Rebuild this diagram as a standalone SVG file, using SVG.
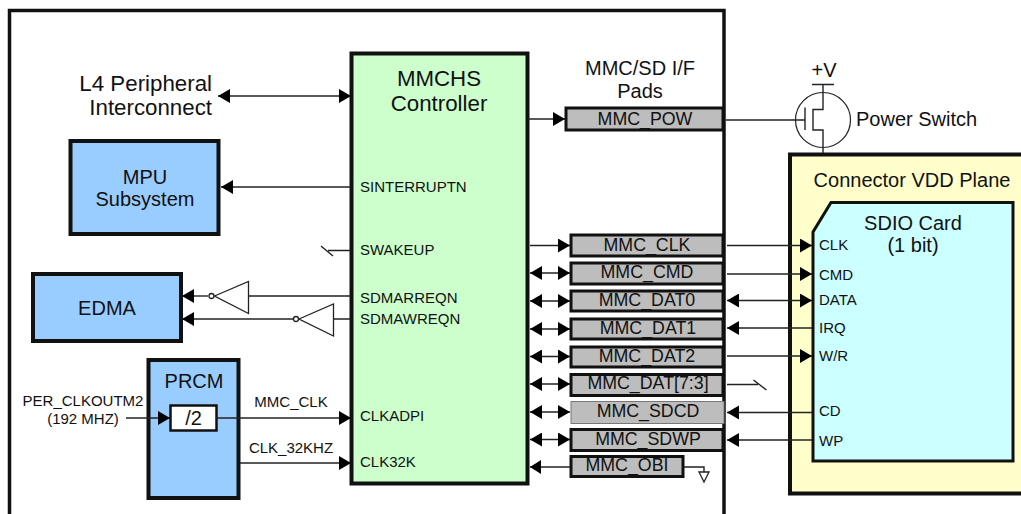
<svg xmlns="http://www.w3.org/2000/svg" width="1021" height="514" viewBox="0 0 1021 514">
<style>
text{font-family:"Liberation Sans",Arial,sans-serif;fill:#111}
.t22{font-size:22.3px}.t20{font-size:20px}.t17{font-size:17.8px}.t15{font-size:15px}
.m{text-anchor:middle}.e{text-anchor:end}
.box{stroke:#111;stroke-width:4}
.blue{fill:#99ccff}.pad{fill:#bdbdbd;stroke:#111;stroke-width:3}
.w{fill:none;stroke:#222;stroke-width:1.4}
.ar{marker-end:url(#a)}.br{marker-start:url(#as);marker-end:url(#a)}
</style>
<defs>
<marker id="a" markerUnits="userSpaceOnUse" markerWidth="12" markerHeight="14" refX="12" refY="7" orient="auto"><path d="M0 0L12 7L0 14Z" fill="#000"/></marker>
<marker id="as" markerUnits="userSpaceOnUse" markerWidth="12" markerHeight="14" refX="0" refY="7" orient="auto"><path d="M12 0L0 7L12 14Z" fill="#000"/></marker>
</defs>
<rect width="1021" height="514" fill="#fff"/>
<path id="soc-boundary" d="M9.500 520V10.500H724V520" fill="none" stroke="#111" stroke-width="3.500"/>
<g id="connector-plane"><rect x="790" y="154.500" width="240" height="339" fill="#ffffcc" class="box"/><text x="912" y="187" class="t20 m">Connector VDD Plane</text></g>
<g id="sdio-card"><path d="M813 461V232L831 202.500H1013V461Z" fill="#ccffff" stroke="#111" stroke-width="3"/><text x="913" y="230" class="t20 m">SDIO Card</text><text x="913" y="252" class="t20 m">(1 bit)</text>
<text x="819" y="250" class="t15">CLK</text><text x="819" y="280" class="t15">CMD</text><text x="819" y="305" class="t15">DATA</text><text x="819" y="333" class="t15">IRQ</text><text x="819" y="361" class="t15">W/R</text><text x="819" y="416" class="t15">CD</text><text x="819" y="446" class="t15">WP</text></g>
<g id="l4-label"><text x="212" y="91" class="t22 e">L4 Peripheral</text><text x="212" y="115" class="t22 e">Interconnect</text></g>
<g id="mpu"><rect x="70.500" y="141" width="148" height="93" class="box blue"/><text x="145" y="184" class="t20 m">MPU</text><text x="145" y="206" class="t20 m">Subsystem</text></g>
<g id="edma"><rect x="33" y="274" width="148" height="67" class="box blue"/><text x="107" y="315" class="t20 m">EDMA</text></g>
<g id="prcm"><rect x="148.500" y="360" width="90" height="138" class="box blue"/><text x="194" y="388" class="t20 m">PRCM</text><text x="83" y="406" class="t15 m">PER_CLKOUTM2</text><text x="83" y="424" class="t15 m">(192 MHZ)</text></g>
<g id="div2"><rect x="170.500" y="405.500" width="46" height="25" fill="#fff" stroke="#111" stroke-width="2.500"/><text x="193.500" y="425" class="t20 m">/2</text></g>
<g id="mmchs"><rect x="351.500" y="53.500" width="176" height="430" fill="#ccffcc" class="box"/><text x="439" y="86" class="t22 m">MMCHS</text><text x="439" y="111" class="t22 m">Controller</text>
<text x="360" y="192" class="t15">SINTERRUPTN</text><text x="360" y="255" class="t15">SWAKEUP</text><text x="360" y="303" class="t15">SDMARREQN</text><text x="360" y="324" class="t15">SDMAWREQN</text><text x="360" y="421" class="t15">CLKADPI</text><text x="360" y="467" class="t15">CLK32K</text></g>
<g id="inv-1"><path d="M214.500 296L248.500 281.500V313.500Z" fill="#fff" stroke="#222" stroke-width="1.300"/><circle cx="211.500" cy="296" r="2.500" fill="#fff" stroke="#222" stroke-width="1.300"/></g>
<g id="inv-2"><path d="M299 319L333.500 304V336Z" fill="#fff" stroke="#222" stroke-width="1.300"/><circle cx="296" cy="319" r="2.500" fill="#fff" stroke="#222" stroke-width="1.300"/></g>
<g id="signal-labels"><text x="291" y="407" class="t15 m">MMC_CLK</text><text x="291" y="453" class="t15 m">CLK_32KHZ</text></g>
<g id="pads-title"><text x="640" y="75" class="t20 m">MMC/SD I/F</text><text x="640" y="98" class="t20 m">Pads</text></g>
<g id="mmc-pow"><rect x="566" y="108" width="157" height="22" class="pad"/><text x="645" y="125" class="t17 m">MMC_POW</text></g>
<g id="mmc-clk"><rect x="571" y="235" width="152" height="21" class="pad"/><text x="647" y="251" class="t17 m">MMC_CLK</text></g>
<g id="mmc-cmd"><rect x="571" y="263" width="152" height="21" class="pad"/><text x="647" y="278" class="t17 m">MMC_CMD</text></g>
<g id="mmc-dat0"><rect x="571" y="291" width="152" height="20" class="pad"/><text x="647" y="306" class="t17 m">MMC_DAT0</text></g>
<g id="mmc-dat1"><rect x="571" y="319" width="152" height="20" class="pad"/><text x="648" y="334" class="t17 m">MMC_DAT1</text></g>
<g id="mmc-dat2"><rect x="571" y="347" width="152" height="20" class="pad"/><text x="647" y="362" class="t17 m">MMC_DAT2</text></g>
<g id="mmc-dat73"><rect x="571" y="374.500" width="152" height="21" class="pad"/><text x="648" y="389" class="t17 m">MMC_DAT[7:3]</text></g>
<g id="mmc-sdcd"><rect x="571" y="401.500" width="153" height="22" fill="#bdbdbd" stroke="#777" stroke-width="1"/><text x="648" y="417" class="t17 m">MMC_SDCD</text></g>
<g id="mmc-sdwp"><rect x="571" y="429.500" width="152" height="21" class="pad"/><text x="648" y="445" class="t17 m">MMC_SDWP</text></g>
<g id="mmc-obi"><rect x="571" y="456.500" width="112" height="20" class="pad"/><text x="627" y="471" class="t17 m">MMC_OBI</text></g>
<g id="power-switch"><circle cx="823" cy="120" r="27.500" fill="#fff" stroke="#222" stroke-width="1.200"/><path d="M823 85V109.500H813V130H823V153" fill="none" stroke="#222" stroke-width="1.400"/><path d="M805 107.500V130M812 84.500H834" fill="none" stroke="#222" stroke-width="1.400"/>
<text x="824" y="77" class="t20 m">+V</text><text x="856" y="126" class="t20">Power Switch</text></g>
<g id="connectors">
<path class="w br" d="M218 96H351"/>
<path class="w ar" d="M351 187H221"/>
<path class="w" d="M351 250.500H328M321 246L333 256"/>
<path class="w" d="M351 296H249M351 319H334"/>
<path class="w ar" d="M208 296H182"/>
<path class="w ar" d="M293 319H182"/>
<path class="w ar" d="M126 418H170"/>
<path class="w ar" d="M216 418H351"/>
<path class="w ar" d="M240 463H351"/>
<path class="w ar" d="M528 119H565"/>
<path class="w ar" d="M530 245.500H570"/>
<path class="w br" d="M530 273H570"/>
<path class="w br" d="M530 301H570"/>
<path class="w br" d="M530 329H570"/>
<path class="w br" d="M530 356.500H570"/>
<path class="w br" d="M530 384H570"/>
<path class="w br" d="M530 412H570"/>
<path class="w br" d="M530 439.500H570"/>
<path class="w" d="M570 467H530"/><path d="M541 460L530 467L541 474Z" fill="#000"/>
<path class="w ar" d="M727 245.500H812"/>
<path class="w ar" d="M727 274H812"/>
<path class="w br" d="M727 300.500H812"/>
<path class="w" d="M812 328H727"/><path d="M739 321L727 328L739 335Z" fill="#000"/>
<path class="w ar" d="M727 356H812"/>
<path class="w" d="M727 384.500H758M753.500 380L766.500 390"/>
<path class="w" d="M812 412.500H727"/><path d="M739 405.500L727 412.500L739 419.500Z" fill="#000"/>
<path class="w" d="M812 440H727"/><path d="M739 433L727 440L739 447Z" fill="#000"/>
<path class="w" d="M684 467H704V472"/>
<path d="M699 472H709L704 482Z" fill="#fff" stroke="#222" stroke-width="1.300"/>
<path class="w" d="M726 120H805"/>
</g>
</svg>
